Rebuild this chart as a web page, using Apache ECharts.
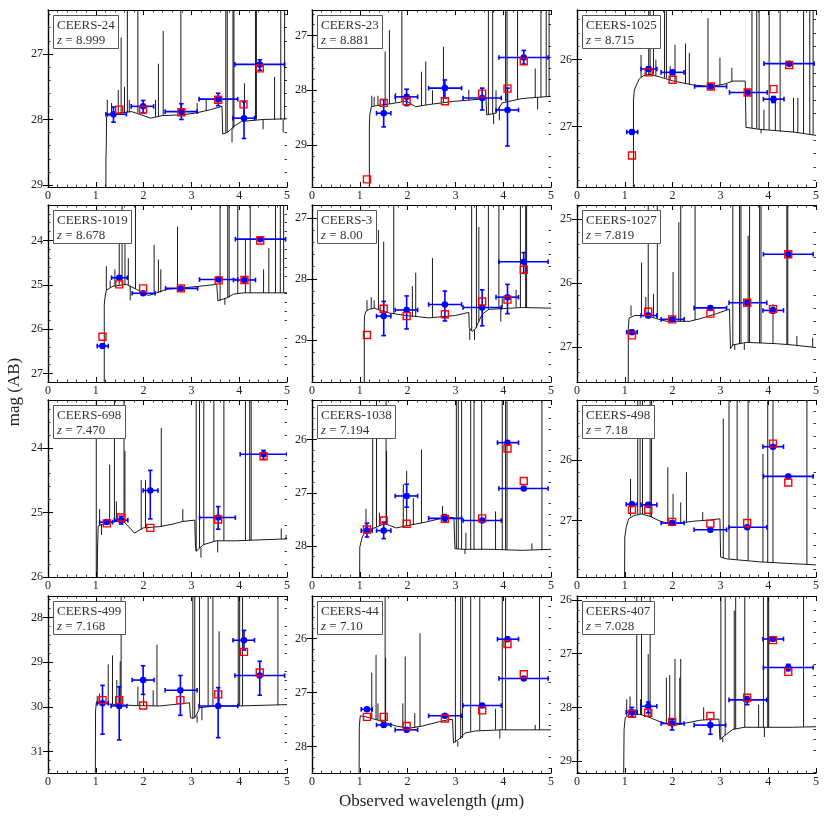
<!DOCTYPE html>
<html>
<head>
<meta charset="utf-8">
<script src="https://cdn.jsdelivr.net/npm/echarts@6/dist/echarts.min.js"></script>
<style>html,body{margin:0;padding:0;background:#fff;}#main{width:831px;height:818px;}</style>
</head>
<body>
<div id="main"></div>
<script>
// ---------- panel meta ----------
const names = ['CEERS-24','CEERS-23','CEERS-1025','CEERS-1019','CEERS-3','CEERS-1027','CEERS-698','CEERS-1038','CEERS-498','CEERS-499','CEERS-44','CEERS-407'];
const redshifts = ['8.999','8.881','8.715','8.678','8.00','7.819','7.470','7.194','7.18','7.168','7.10','7.028'];
const xRange = [0, 5];
const xTicks = [0, 1, 2, 3, 4, 5];
const yRanges = [[26.33,29.03],[26.53,29.77],[25.26,27.9],[23.2,27.19],[26.79,29.69],[24.78,27.55],[23.26,26.0],[25.26,28.58],[25.01,27.93],[27.52,31.48],[25.21,28.49],[25.93,29.22]];
const yTicks = [[27,28,29],[27,28,29],[26,27],[24,25,26,27],[27,28,29],[25,26,27],[24,25,26],[26,27,28],[26,27],[28,29,30,31],[26,27,28],[26,27,28,29]];

// ---------- spectra: continuum [lambda, mag] ----------
const cont1 = [[1.21,29.5],[1.212,28.6],[1.22,28.4],[1.225,27.96],[1.3,27.93],[1.5,27.9],[1.75,27.88],[1.95,27.93],[2.15,27.98],[2.4,27.94],[2.8,27.93],[3.1,27.9],[3.4,27.85],[3.64,27.8],[3.655,28.22],[3.75,28.2],[3.9,28.1],[4.05,28.03],[4.5,28.0],[5.0,27.99]];
const cont2 = [[1.2,29.9],[1.2,28.65],[1.21,28.45],[1.24,28.3],[1.35,28.28],[1.62,28.25],[1.97,28.2],[2.17,28.3],[2.45,28.26],[3.0,28.2],[3.56,28.16],[3.64,28.15],[3.655,28.45],[3.84,28.42],[3.98,28.23],[4.4,28.15],[5.0,28.11]];
const cont3 = [[1.18,28.0],[1.182,26.6],[1.2,26.45],[1.25,26.37],[1.3,26.29],[1.39,26.24],[1.53,26.22],[1.74,26.26],[2.02,26.32],[2.44,26.38],[2.79,26.4],[3.06,26.37],[3.27,26.32],[3.52,26.32],[3.535,27.01],[3.82,27.04],[4.53,27.08],[5.0,27.13]];
const cont4 = [[1.177,27.3],[1.177,25.45],[1.19,25.3],[1.22,25.12],[1.36,25.03],[1.64,24.99],[1.85,25.1],[2.1,25.24],[2.2,25.21],[2.48,25.1],[2.9,25.06],[3.18,25.03],[3.53,24.99],[3.555,25.36],[3.75,25.29],[3.88,25.21],[4.09,25.18],[5.0,25.18]];
const cont5 = [[1.094,29.8],[1.094,28.75],[1.1,28.6],[1.13,28.53],[1.2,28.5],[1.3,28.48],[1.45,28.52],[1.62,28.56],[1.97,28.6],[2.45,28.64],[3.0,28.6],[3.28,28.55],[3.29,28.8],[3.35,28.86],[3.42,28.82],[3.5,28.68],[3.56,28.58],[3.7,28.5],[4.4,28.47],[5.0,28.48]];
const cont6 = [[1.072,27.6],[1.074,26.71],[1.09,26.55],[1.11,26.53],[1.2,26.51],[1.46,26.51],[1.67,26.56],[1.87,26.6],[2.36,26.6],[2.57,26.56],[2.92,26.48],[3.19,26.41],[3.21,27.03],[3.26,26.97],[3.54,26.93],[4.17,26.95],[4.51,26.97],[5.0,27.01]];
const cont7 = [[1.03,26.1],[1.035,25.6],[1.05,25.21],[1.15,25.18],[1.3,25.15],[1.57,25.13],[1.81,25.32],[1.99,25.24],[2.34,25.22],[2.62,25.18],[2.82,25.14],[3.07,25.12],[3.085,25.51],[3.1,25.6],[3.25,25.5],[3.52,25.44],[3.9,25.44],[5.0,25.41]];
const cont8 = [[0.996,28.7],[1.0,28.02],[1.05,27.83],[1.13,27.71],[1.34,27.65],[1.51,27.58],[1.62,27.61],[1.76,27.66],[2.03,27.61],[2.38,27.55],[2.66,27.49],[2.87,27.46],[2.97,27.47],[2.99,28.05],[3.15,28.06],[3.7,28.06],[4.4,28.08],[5.0,28.06]];
const cont9 = [[0.995,28.0],[1.0,27.27],[1.03,27.11],[1.08,26.97],[1.18,26.92],[1.35,26.89],[1.53,26.93],[1.74,27.01],[1.94,27.05],[2.15,27.04],[2.43,27.01],[2.78,26.99],[2.99,26.97],[3.005,27.6],[3.12,27.63],[3.82,27.68],[4.51,27.71],[5.0,27.73]];
const cont10 = [[0.99,31.6],[0.995,30.09],[1.01,29.91],[1.1,29.91],[1.3,29.94],[1.78,29.97],[2.34,29.98],[2.61,29.95],[2.96,29.91],[2.98,30.24],[3.03,30.26],[3.1,30.2],[3.17,30.02],[3.5,29.98],[4.0,29.98],[5.0,29.95]];
const cont11 = [[0.985,28.6],[0.99,27.62],[1.01,27.43],[1.13,27.45],[1.34,27.5],[1.55,27.56],[1.76,27.62],[2.03,27.66],[2.31,27.62],[2.66,27.54],[2.87,27.5],[2.94,27.5],[2.96,27.93],[3.08,27.86],[3.2,27.75],[3.42,27.71],[3.98,27.69],[5.0,27.69]];
const cont12 = [[0.976,29.3],[0.985,28.41],[1.01,28.19],[1.1,28.13],[1.32,28.13],[1.53,28.19],[1.74,28.27],[2.01,28.34],[2.29,28.29],[2.57,28.24],[2.85,28.22],[2.97,28.22],[2.99,28.6],[3.08,28.53],[3.26,28.41],[3.5,28.37],[4.51,28.37],[5.0,28.36]];

// ---------- emission / absorption lines: [lambda, base mag, tip mag] ----------
const lines1 = [[1.24,27.95,27.7],[1.33,27.93,27.75],[1.47,27.9,27.55],[1.53,27.9,26.75],[1.6,27.9,27.5],[1.66,27.89,26.0],[1.7,27.89,27.7],[1.88,27.9,26.0],[2.25,27.96,27.7],[2.31,27.95,27.15],[2.41,27.94,26.65],[2.78,27.93,26.0],[3.12,27.9,27.75],[3.31,27.87,27.7],[3.72,28.2,26.0],[3.75,28.2,26.0],[3.87,28.15,26.0],[3.89,28.12,26.0],[3.85,28.15,28.35],[4.11,28.03,27.45],[4.34,28.0,26.0],[4.36,28.0,26.0],[4.5,28.0,28.15],[4.74,28.0,27.35],[4.87,28.0,26.0],[4.95,28.0,26.0],[4.92,28.0,28.2]];
const lines2 = [[1.25,28.3,28.1],[1.3,28.28,28.12],[1.38,28.28,28.1],[1.53,28.26,27.29],[1.62,28.25,26.9],[1.75,28.22,28.05],[1.88,28.21,26.3],[2.29,28.28,27.66],[2.38,28.27,27.47],[2.52,28.25,28.0],[2.75,28.22,27.2],[3.28,28.18,27.99],[3.69,28.45,26.3],[3.78,28.44,26.3],[3.85,28.42,28.0],[3.8,28.44,28.62],[3.92,28.3,28.55],[4.05,28.2,26.3],[4.08,28.2,26.3],[4.3,28.16,26.3],[4.67,28.13,27.6],[4.72,28.13,28.35],[4.79,28.12,26.3],[4.9,28.11,26.3],[4.96,28.11,26.3]];
const lines3 = [[1.34,26.26,25.93],[1.45,26.23,26.1],[1.5,26.22,25.2],[1.53,26.22,25.2],[1.6,26.22,25.2],[1.65,26.24,26.0],[1.83,26.27,25.2],[1.87,26.28,25.2],[1.95,26.3,26.1],[2.05,26.33,25.78],[2.27,26.36,25.76],[2.35,26.37,25.9],[2.74,26.4,25.38],[2.99,26.38,25.97],[3.24,26.33,26.12],[3.66,27.02,25.2],[3.76,27.03,25.2],[3.81,27.04,25.2],[3.91,27.05,26.75],[3.85,27.04,27.1],[4.02,27.05,25.2],[4.25,27.07,25.2],[4.15,27.06,26.55],[4.53,27.08,26.57],[4.62,27.09,26.57],[4.74,27.1,25.2],[4.87,27.11,25.2],[4.94,27.12,25.2]];
const lines4 = [[1.22,25.12,24.58],[1.3,25.06,24.9],[1.4,25.03,24.65],[1.49,25.0,23.84],[1.55,25.0,23.0],[1.61,24.99,23.92],[1.68,25.0,24.4],[1.72,25.02,25.35],[1.83,25.09,23.0],[2.22,25.2,24.1],[2.31,25.18,24.43],[2.36,25.17,24.65],[2.71,25.07,23.69],[3.6,25.35,23.0],[3.76,25.29,23.0],[3.79,25.28,23.0],[3.97,25.2,23.0],[3.7,25.3,25.45],[4.13,25.18,23.98],[4.23,25.18,23.0],[4.51,25.18,24.65],[4.62,25.18,24.17],[4.76,25.18,23.0],[4.86,25.18,23.0],[4.93,25.18,23.0]];
const lines5 = [[1.15,28.52,28.35],[1.24,28.49,28.3],[1.3,28.48,28.35],[1.39,28.5,27.2],[1.5,28.53,27.39],[1.71,28.57,26.7],[2.1,28.61,28.12],[2.17,28.62,27.9],[2.52,28.63,27.66],[3.3,28.82,29.0],[3.34,28.85,26.7],[3.44,28.8,26.7],[3.49,28.7,27.15],[3.4,28.84,29.0],[3.69,28.5,26.7],[3.91,28.49,26.7],[3.98,28.48,28.32],[3.95,28.48,28.7],[4.27,28.47,28.18],[4.36,28.47,26.7],[4.47,28.47,26.7],[4.49,28.47,26.7]];
const lines6 = [[1.13,26.52,26.35],[1.35,26.51,25.68],[1.44,26.51,26.22],[1.49,26.51,24.6],[1.6,26.53,26.17],[1.68,26.56,24.6],[2.01,26.6,25.83],[2.13,26.6,25.05],[2.17,26.6,24.6],[2.47,26.58,24.6],[3.26,26.97,24.6],[3.3,26.96,27.05],[3.4,26.95,24.6],[3.43,26.95,24.6],[3.58,26.93,25.26],[3.61,26.93,24.6],[3.5,26.94,27.05],[3.82,26.94,24.6],[3.85,26.94,24.6],[4.1,26.95,26.33],[4.39,26.96,24.6],[4.41,26.96,24.6],[4.6,26.98,26.83],[4.93,27.0,26.86]];
const lines7 = [[1.01,26.1,23.0],[1.08,25.2,24.95],[1.12,25.19,25.35],[1.29,25.15,24.26],[1.39,25.14,23.0],[1.43,25.14,24.83],[1.59,25.15,23.0],[1.61,25.16,24.05],[1.95,25.27,24.5],[2.04,25.24,24.5],[2.37,25.22,23.69],[2.82,25.14,24.95],[3.1,25.6,23.0],[3.17,25.55,23.0],[3.26,25.5,23.0],[3.2,25.55,25.7],[3.47,25.45,23.0],[3.55,25.44,25.62],[3.68,25.44,23.0],[4.13,25.43,23.0],[4.22,25.43,23.0],[4.25,25.43,23.0],[4.88,25.41,25.25],[4.98,25.41,25.35]];
const lines8 = [[1.13,27.71,27.3],[1.27,27.66,25.94],[1.35,27.64,25.0],[1.41,27.62,27.37],[1.55,27.59,25.0],[1.56,27.59,26.22],[1.91,27.63,26.84],[1.98,27.62,26.59],[2.12,27.6,27.1],[2.29,27.57,26.19],[2.73,27.48,27.25],[3.02,28.05,25.0],[3.06,28.05,25.0],[3.13,28.06,25.0],[3.22,28.06,27.75],[3.32,28.06,25.0],[3.39,28.06,25.0],[3.55,28.06,25.0],[3.2,28.06,28.15],[3.84,28.07,27.35],[3.98,28.07,25.0],[4.05,28.07,25.0],[4.08,28.07,25.0],[4.6,28.07,27.95],[4.81,28.07,25.0]];
const lines9 = [[1.12,26.93,26.31],[1.27,26.9,24.8],[1.32,26.89,24.8],[1.37,26.89,24.8],[1.53,26.93,24.8],[1.56,26.94,24.8],[1.9,27.04,26.12],[2.01,27.05,26.56],[2.17,27.04,26.7],[2.29,27.03,26.2],[2.63,27.0,26.86],[3.06,27.62,25.32],[3.18,27.63,24.8],[3.35,27.64,24.8],[3.58,27.66,24.8],[3.89,27.68,25.9],[3.99,27.69,24.8],[4.1,27.69,24.8],[4.81,27.72,24.8]];
const lines10 = [[1.03,29.91,29.75],[1.08,29.91,29.7],[1.26,29.93,29.05],[1.35,29.94,28.85],[1.44,29.95,29.4],[1.51,29.95,28.98],[1.53,29.95,27.3],[1.88,29.97,29.55],[2.0,29.97,29.33],[2.2,29.98,29.63],[2.28,29.98,28.61],[3.03,30.26,27.3],[3.07,30.25,27.3],[3.12,30.2,30.35],[3.17,30.02,27.3],[3.22,30.0,30.3],[3.35,29.99,27.3],[3.45,29.98,27.3],[3.58,29.98,28.31],[3.98,29.98,27.3],[4.01,29.98,27.3],[4.07,29.98,27.3],[4.81,29.96,27.3]];
const lines11 = [[1.25,27.47,26.63],[1.34,27.5,26.3],[1.38,27.51,27.2],[1.53,27.56,25.0],[1.54,27.56,26.36],[1.9,27.64,27.2],[1.95,27.65,26.33],[2.15,27.65,27.38],[2.26,27.63,25.9],[3.0,27.92,25.0],[3.05,27.9,28.0],[3.11,27.86,25.0],[3.15,27.84,25.0],[3.32,27.72,25.0],[3.51,27.7,25.0],[3.84,27.69,27.3],[3.93,27.69,27.85],[3.98,27.69,25.0],[4.05,27.69,25.0],[4.67,27.69,27.6],[4.76,27.69,25.0]];
const lines12 = [[1.04,28.16,27.85],[1.11,28.13,27.8],[1.25,28.13,25.8],[1.33,28.14,27.85],[1.35,28.14,25.8],[1.49,28.18,27.01],[1.53,28.19,25.8],[1.87,28.3,27.45],[1.94,28.32,27.4],[2.05,28.34,27.1],[2.15,28.32,27.45],[2.17,28.32,27.1],[2.65,28.23,28.0],[3.01,28.58,25.8],[3.05,28.57,28.65],[3.1,28.52,25.8],[3.29,28.41,26.2],[3.32,28.4,25.8],[3.51,28.37,25.8],[3.8,28.37,27.95],[3.9,28.37,25.8],[3.92,28.37,28.55],[3.99,28.37,25.8],[4.01,28.37,25.8],[4.74,28.36,25.8]];

// ---------- observed photometry: [lambda, mag, lambdaLo, lambdaHi, magLo, magHi] ----------
const phot1 = [[1.37,27.92,1.21,1.64,27.81,28.04],[1.99,27.8,1.74,2.21,27.71,27.9],[2.79,27.88,2.45,3.12,27.76,28.0],[3.56,27.69,3.16,3.97,27.6,27.79],[4.1,27.98,3.87,4.32,27.73,28.29],[4.43,27.16,3.91,4.95,27.09,27.25]];
const phot2 = [[1.5,28.42,1.35,1.65,28.17,28.67],[1.98,28.12,1.74,2.21,27.98,28.28],[2.78,27.96,2.44,3.13,27.81,28.14],[3.56,28.14,3.16,3.96,27.96,28.36],[4.09,28.36,3.85,4.32,27.96,29.02],[4.43,27.4,3.91,4.94,27.27,27.52]];
const phot3 = [[1.15,27.08,1.04,1.27,27.05,27.11],[1.5,26.14,1.34,1.67,26.11,26.17],[2.0,26.19,1.76,2.24,26.16,26.22],[2.8,26.4,2.46,3.13,26.38,26.42],[3.57,26.49,3.19,3.98,26.46,26.52],[4.11,26.59,3.9,4.33,26.55,26.64],[4.44,26.06,3.91,4.96,26.04,26.08]];
const phot4 = [[1.14,26.38,1.03,1.26,26.35,26.41],[1.49,24.84,1.33,1.66,24.81,24.87],[1.99,25.19,1.76,2.24,25.16,25.22],[2.78,25.08,2.46,3.13,25.05,25.11],[3.57,24.88,3.17,3.97,24.85,24.91],[4.11,24.89,3.88,4.34,24.86,24.92],[4.44,23.97,3.92,4.97,23.95,23.99]];
const phot5 = [[1.5,28.61,1.35,1.65,28.37,28.93],[1.98,28.51,1.74,2.21,28.28,28.82],[2.78,28.42,2.44,3.13,28.2,28.69],[3.56,28.47,3.16,3.96,28.18,28.77],[4.09,28.3,3.85,4.32,28.09,28.57],[4.43,27.72,3.91,4.94,27.57,27.91]];
const phot6 = [[1.15,26.77,1.04,1.26,26.74,26.8],[1.49,26.51,1.34,1.67,26.48,26.54],[1.99,26.57,1.76,2.24,26.54,26.6],[2.79,26.39,2.45,3.13,26.37,26.41],[3.56,26.31,3.18,3.97,26.28,26.34],[4.1,26.43,3.89,4.32,26.39,26.47],[4.42,25.55,3.9,4.94,25.53,25.57]];
const phot7 = [[1.23,25.15,1.08,1.35,25.12,25.18],[1.53,25.12,1.39,1.67,25.06,25.18],[2.14,24.66,1.99,2.3,24.35,25.1],[3.56,25.08,3.17,3.92,24.91,25.26],[4.51,24.1,4.02,5.0,24.04,24.18]];
const phot8 = [[1.15,27.71,1.03,1.26,27.57,27.83],[1.5,27.71,1.35,1.65,27.55,27.86],[1.98,27.06,1.74,2.21,26.84,27.27],[2.78,27.48,2.44,3.13,27.41,27.55],[3.56,27.52,3.16,3.96,27.49,27.55],[4.09,26.06,3.88,4.32,26.03,26.09],[4.43,26.92,3.91,4.94,26.89,26.95]];
const phot9 = [[1.15,26.73,1.03,1.26,26.7,26.76],[1.49,26.74,1.34,1.67,26.71,26.77],[1.99,27.04,1.76,2.24,27.01,27.07],[2.79,27.15,2.45,3.13,27.12,27.18],[3.56,27.11,3.18,3.97,27.08,27.14],[4.1,25.78,3.89,4.32,25.75,25.81],[4.42,26.27,3.9,4.94,26.24,26.3]];
const phot10 = [[1.14,29.92,1.03,1.26,29.52,30.61],[1.49,29.98,1.32,1.65,29.55,30.74],[1.99,29.4,1.76,2.22,29.08,29.72],[2.77,29.63,2.45,3.12,29.3,30.19],[3.56,29.98,3.16,3.97,29.57,30.69],[4.1,28.51,3.87,4.32,28.29,28.73],[4.43,29.3,3.91,4.95,28.98,29.74]];
const phot11 = [[1.15,27.31,1.03,1.26,27.28,27.34],[1.5,27.6,1.35,1.65,27.57,27.63],[1.98,27.69,1.74,2.21,27.66,27.72],[2.78,27.43,2.44,3.13,27.4,27.46],[3.56,27.24,3.16,3.96,27.21,27.27],[4.09,26.01,3.88,4.32,25.98,26.04],[4.43,26.74,3.91,4.94,26.71,26.77]];
const phot12 = [[1.15,28.09,1.03,1.26,28.0,28.17],[1.49,27.98,1.34,1.67,27.9,28.1],[1.99,28.3,1.76,2.24,28.22,28.42],[2.79,28.33,2.45,3.11,28.22,28.5],[3.56,27.86,3.18,3.97,27.8,27.95],[4.1,26.73,3.89,4.32,26.7,26.76],[4.42,27.26,3.9,4.94,27.2,27.32]];

// ---------- model photometry: [lambda, mag] ----------
const model1 = [[1.49,27.85],[1.99,27.85],[2.79,27.89],[3.56,27.7],[4.09,27.77],[4.43,27.22]];
const model2 = [[1.15,29.63],[1.5,28.23],[1.98,28.2],[2.78,28.2],[3.56,28.06],[4.09,27.97],[4.43,27.47]];
const model3 = [[1.15,27.43],[1.5,26.19],[2.0,26.3],[2.8,26.4],[3.57,26.49],[4.11,26.44],[4.44,26.08]];
const model4 = [[1.14,26.17],[1.49,24.99],[1.99,25.08],[2.78,25.08],[3.57,24.9],[4.11,24.89],[4.44,24.0]];
const model5 = [[1.15,28.92],[1.5,28.49],[1.98,28.61],[2.78,28.58],[3.56,28.37],[4.09,28.34],[4.43,27.85]];
const model6 = [[1.15,26.82],[1.49,26.45],[1.99,26.57],[2.79,26.48],[3.56,26.31],[4.1,26.41],[4.42,25.55]];
const model7 = [[1.23,25.17],[1.53,25.08],[2.14,25.24],[3.56,25.11],[4.51,24.13]];
const model8 = [[1.15,27.69],[1.5,27.52],[1.98,27.58],[2.78,27.49],[3.56,27.48],[4.09,26.17],[4.43,26.78]];
const model9 = [[1.15,26.82],[1.49,26.82],[1.99,27.02],[2.79,27.05],[3.56,27.04],[4.1,25.73],[4.42,26.37]];
const model10 = [[1.14,29.85],[1.49,29.85],[1.99,29.97],[2.77,29.85],[3.56,29.72],[4.1,28.77],[4.43,29.23]];
const model11 = [[1.15,27.45],[1.5,27.45],[1.98,27.62],[2.78,27.48],[3.56,27.33],[4.09,26.1],[4.43,26.66]];
const model12 = [[1.15,28.12],[1.49,28.1],[1.99,28.27],[2.79,28.16],[3.56,27.82],[4.1,26.75],[4.42,27.34]];

const conts = [cont1,cont2,cont3,cont4,cont5,cont6,cont7,cont8,cont9,cont10,cont11,cont12];
const lineSets = [lines1,lines2,lines3,lines4,lines5,lines6,lines7,lines8,lines9,lines10,lines11,lines12];
const phots = [phot1,phot2,phot3,phot4,phot5,phot6,phot7,phot8,phot9,phot10,phot11,phot12];
const models = [model1,model2,model3,model4,model5,model6,model7,model8,model9,model10,model11,model12];

// ---------- layout ----------
const FONT = 'Liberation Serif';
const colLeft = [48, 312, 577], rowTop = [10, 205, 400, 596], W = 239, H = 177;

function renderSpike(params, api) {
  const a = api.coord([api.value(0), api.value(1)]);
  const b = api.coord([api.value(0), api.value(2)]);
  return {type: 'line', shape: {x1: a[0], y1: a[1], x2: b[0], y2: b[1]},
          style: {stroke: '#000', lineWidth: 0.9, opacity: 1}};
}
function renderErr(params, api) {
  const x = api.value(0), y = api.value(1);
  const a = api.coord([api.value(2), y]), b = api.coord([api.value(3), y]);
  const c = api.coord([x, api.value(4)]), d = api.coord([x, api.value(5)]);
  const k = 2.3;
  const segs = [
    [a[0], a[1], b[0], b[1]],
    [a[0], a[1]-k, a[0], a[1]+k],
    [b[0], b[1]-k, b[0], b[1]+k],
    [c[0], c[1], d[0], d[1]],
    [c[0]-k, c[1], c[0]+k, c[1]],
    [d[0]-k, d[1], d[0]+k, d[1]]
  ];
  return {type: 'group', children: segs.map(s => ({type: 'line',
    shape: {x1: s[0], y1: s[1], x2: s[2], y2: s[3]},
    style: {stroke: '#0000ff', lineWidth: 1.6}}))};
}

const grids = [], xAxes = [], yAxes = [], series = [], titles = [];
const frame = {show: true, lineStyle: {color: '#000', width: 1.2}};
const tickStyle = {color: '#000', width: 1};
for (let i = 0; i < 12; i++) {
  const left = colLeft[i % 3], top = rowTop[Math.floor(i / 3)];
  grids.push({left: left, top: top, width: W, height: H, containLabel: false});
  const ymin = yRanges[i][0], ymax = yRanges[i][1];
  const xBase = {type: 'value', gridIndex: i, min: xRange[0], max: xRange[1], interval: 1,
    splitLine: {show: false}, axisLine: frame,
    axisTick: {inside: true, length: 5, lineStyle: tickStyle},
    minorTick: {show: true, splitNumber: 5, length: 2.5, lineStyle: {color: '#000', width: 0.8}}};
  xAxes.push(Object.assign({}, xBase, {position: 'bottom',
    axisLabel: {margin: 3, fontFamily: FONT, fontSize: 12, color: '#222', customValues: xTicks}}));
  xAxes.push(Object.assign({}, xBase, {position: 'top', axisLabel: {show: false}}));
  const minors = [];
  for (let k = Math.ceil(ymin * 5 - 1e-9); k <= Math.floor(ymax * 5 + 1e-9); k++) {
    if (k % 5 !== 0) minors.push(k / 5);
  }
  const yBase = {type: 'value', gridIndex: i, min: ymin, max: ymax, inverse: true, splitLine: {show: false}};
  yAxes.push(Object.assign({}, yBase, {position: 'left', axisLine: frame,
    axisTick: {inside: true, length: 5, customValues: yTicks[i], lineStyle: tickStyle},
    axisLabel: {customValues: yTicks[i], margin: 5, fontFamily: FONT, fontSize: 12, color: '#222'}}));
  yAxes.push(Object.assign({}, yBase, {position: 'right', axisLine: frame,
    axisTick: {inside: true, length: 5, customValues: yTicks[i], lineStyle: tickStyle},
    axisLabel: {show: false}}));
  yAxes.push(Object.assign({}, yBase, {position: 'left', axisLine: {show: false},
    axisTick: {inside: true, length: 2.5, customValues: minors, lineStyle: {color: '#000', width: 0.8}},
    axisLabel: {show: false}}));
  yAxes.push(Object.assign({}, yBase, {position: 'right', axisLine: {show: false},
    axisTick: {inside: true, length: 2.5, customValues: minors, lineStyle: {color: '#000', width: 0.8}},
    axisLabel: {show: false}}));

  const xi = 2 * i, yi = 4 * i;
  series.push({type: 'custom', xAxisIndex: xi, yAxisIndex: yi, data: lineSets[i],
    renderItem: renderSpike, clip: true, silent: true, z: 1});
  series.push({type: 'line', xAxisIndex: xi, yAxisIndex: yi, data: conts[i], symbol: 'none',
    showSymbol: false, clip: true, silent: true, lineStyle: {color: '#000', width: 0.9}, z: 2});
  series.push({type: 'custom', xAxisIndex: xi, yAxisIndex: yi, data: phots[i],
    renderItem: renderErr, clip: true, silent: true, z: 3});
  series.push({type: 'scatter', xAxisIndex: xi, yAxisIndex: yi,
    data: phots[i].map(p => [p[0], p[1]]), symbol: 'circle', symbolSize: 6.5, silent: true,
    itemStyle: {color: '#0000ff', opacity: 1}, z: 4});
  series.push({type: 'scatter', xAxisIndex: xi, yAxisIndex: yi, data: models[i],
    symbol: 'rect', symbolSize: 7, silent: true,
    itemStyle: {color: 'rgba(0,0,0,0)', borderColor: '#ff0000', borderWidth: 1.4, opacity: 1}, z: 5});

  titles.push({left: left + 5, top: top + 5,
    text: '{n|' + names[i] + '}\n{z|z}{n| = ' + redshifts[i] + '}',
    padding: [3, 4, 1, 4], borderColor: '#555', borderWidth: 1, backgroundColor: '#fff',
    textStyle: {fontFamily: FONT, fontSize: 13, fontWeight: 'normal', color: '#333', lineHeight: 15,
      rich: {n: {fontFamily: FONT, fontSize: 13, fontWeight: 'normal', color: '#333', lineHeight: 15},
             z: {fontFamily: FONT, fontSize: 13, fontWeight: 'normal', color: '#333', lineHeight: 15, fontStyle: 'italic'}}}});
}

const chart = echarts.init(document.getElementById('main'));
chart.setOption({
  animation: false,
  backgroundColor: '#fff',
  title: titles,
  grid: grids,
  xAxis: xAxes,
  yAxis: yAxes,
  series: series,
  graphic: [
    {type: 'text', x: 431.5, y: 802, style: {
      text: '{a|Observed wavelength (}{b|μ}{a|m)}',
      align: 'center', verticalAlign: 'middle', textAlign: 'center', textVerticalAlign: 'middle',
      rich: {a: {fontFamily: FONT, fontSize: 17, fill: '#222'},
             b: {fontFamily: FONT, fontSize: 17, fill: '#222', fontStyle: 'italic'}}}},
    {type: 'text', x: 15, y: 392, rotation: Math.PI / 2, style: {
      text: 'mag (AB)', fontFamily: FONT, fontSize: 17, fill: '#222',
      align: 'center', verticalAlign: 'middle', textAlign: 'center', textVerticalAlign: 'middle'}}
  ]
});
</script>
</body>
</html>
